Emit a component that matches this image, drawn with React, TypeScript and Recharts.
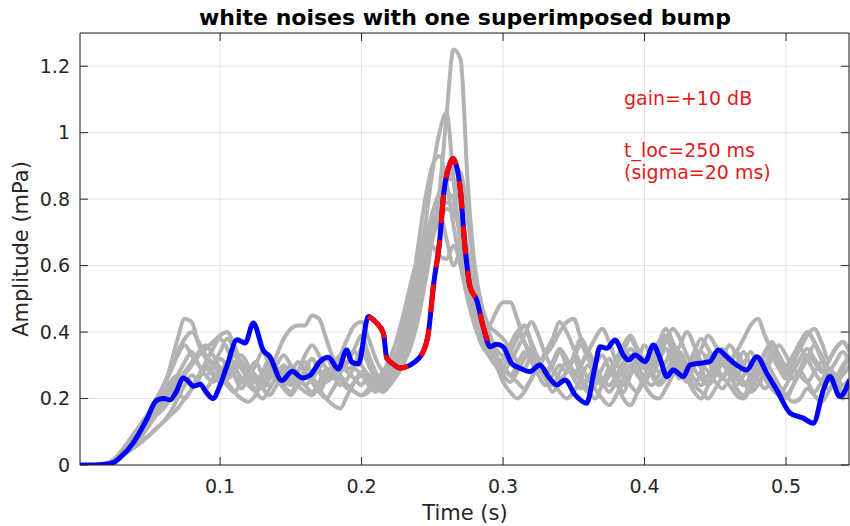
import React from 'react';
import { LineChart, Line, XAxis, YAxis, CartesianGrid, ReferenceLine } from 'recharts';

// ---------- data ----------
const xTicks = [0.1, 0.2, 0.3, 0.4, 0.5];
const yTicks = [0, 0.2, 0.4, 0.6, 0.8, 1, 1.2];
const xDomain: [number, number] = [0.001, 0.5445];
const yDomain: [number, number] = [0, 1.3];

// shared sampling grid for the grey noise realisations (5 ms)
const timeGrid = Array.from({ length: 110 }, (_, i) => Math.round(i * 5) / 1000);

const gray1 = [
  0, 0, 0, 0, 0.004, 0.014, 0.04, 0.065, 0.09, 0.12,
  0.15, 0.19, 0.24, 0.28, 0.33, 0.36, 0.33, 0.30, 0.27, 0.29,
  0.32, 0.30, 0.27, 0.25, 0.28, 0.31, 0.27, 0.24, 0.26, 0.29,
  0.27, 0.25, 0.29, 0.32, 0.28, 0.25, 0.27, 0.30, 0.28, 0.26,
  0.24, 0.27, 0.25, 0.23, 0.25, 0.28, 0.31, 0.36, 0.44, 0.55,
  0.68, 0.82, 1.05, 1.25, 1.22, 0.85, 0.6, 0.48, 0.42, 0.40,
  0.38, 0.35, 0.31, 0.29, 0.33, 0.30, 0.26, 0.24, 0.28, 0.31,
  0.28, 0.25, 0.22, 0.24, 0.29, 0.32, 0.27, 0.24, 0.28, 0.33,
  0.30, 0.27, 0.31, 0.35, 0.30, 0.26, 0.29, 0.33, 0.29, 0.25,
  0.27, 0.31, 0.28, 0.24, 0.27, 0.30, 0.26, 0.23, 0.25, 0.22,
  0.20, 0.24, 0.28, 0.25, 0.22, 0.25, 0.29, 0.27, 0.24, 0.26,
];
const gray2 = [
  0, 0, 0, 0, 0.003, 0.012, 0.035, 0.06, 0.08, 0.1,
  0.13, 0.17, 0.22, 0.3, 0.38, 0.44, 0.43, 0.36, 0.32, 0.3,
  0.28, 0.31, 0.27, 0.23, 0.26, 0.3, 0.34, 0.3, 0.26, 0.24,
  0.27, 0.31, 0.28, 0.25, 0.22, 0.26, 0.3, 0.33, 0.29, 0.3,
  0.35, 0.3, 0.26, 0.24, 0.26, 0.3, 0.36, 0.46, 0.58, 0.72,
  0.88, 1.0, 1.06, 0.86, 0.66, 0.52, 0.45, 0.39, 0.34, 0.31,
  0.3, 0.34, 0.38, 0.42, 0.36, 0.3, 0.26, 0.22, 0.25, 0.28,
  0.32, 0.27, 0.23, 0.2, 0.24, 0.29, 0.26, 0.22, 0.27, 0.31,
  0.36, 0.32, 0.28, 0.31, 0.35, 0.31, 0.27, 0.24, 0.28, 0.33,
  0.29, 0.26, 0.3, 0.34, 0.3, 0.26, 0.24, 0.28, 0.32, 0.29,
  0.26, 0.3, 0.35, 0.32, 0.28, 0.25, 0.23, 0.26, 0.3, 0.33,
];
const gray3 = [
  0, 0, 0, 0, 0.005, 0.018, 0.04, 0.065, 0.09, 0.12,
  0.16, 0.2, 0.24, 0.29, 0.34, 0.38, 0.4, 0.37, 0.33, 0.31,
  0.34, 0.38, 0.35, 0.3, 0.27, 0.25, 0.28, 0.32, 0.29, 0.26,
  0.24, 0.28, 0.33, 0.36, 0.33, 0.29, 0.26, 0.28, 0.31, 0.35,
  0.39, 0.33, 0.28, 0.25, 0.27, 0.31, 0.38, 0.5, 0.66, 0.8,
  0.9, 0.93, 0.85, 0.72, 0.6, 0.5, 0.42, 0.36, 0.33, 0.3,
  0.27, 0.25, 0.28, 0.32, 0.35, 0.31, 0.27, 0.3, 0.34, 0.3,
  0.26, 0.23, 0.26, 0.3, 0.33, 0.29, 0.25, 0.2, 0.18, 0.22,
  0.27, 0.31, 0.35, 0.39, 0.33, 0.28, 0.25, 0.3, 0.34, 0.31,
  0.28, 0.32, 0.36, 0.33, 0.29, 0.27, 0.3, 0.34, 0.37, 0.33,
  0.29, 0.26, 0.29, 0.33, 0.31, 0.28, 0.31, 0.35, 0.37, 0.34,
];
const gray4 = [
  0, 0, 0, 0, 0.004, 0.013, 0.03, 0.05, 0.07, 0.09,
  0.12, 0.15, 0.17, 0.2, 0.23, 0.27, 0.3, 0.33, 0.35, 0.37,
  0.39, 0.4, 0.36, 0.31, 0.28, 0.26, 0.24, 0.26, 0.3, 0.33,
  0.3, 0.27, 0.24, 0.22, 0.25, 0.29, 0.27, 0.24, 0.26, 0.29,
  0.27, 0.25, 0.23, 0.25, 0.28, 0.31, 0.35, 0.42, 0.51, 0.6,
  0.68, 0.74, 0.79, 0.78, 0.68, 0.55, 0.45, 0.38, 0.33, 0.3,
  0.32, 0.36, 0.4, 0.42, 0.37, 0.32, 0.28, 0.31, 0.35, 0.32,
  0.28, 0.3, 0.34, 0.3, 0.25, 0.22, 0.25, 0.29, 0.33, 0.3,
  0.26, 0.24, 0.27, 0.31, 0.34, 0.3, 0.26, 0.22, 0.2, 0.24,
  0.29, 0.33, 0.3, 0.26, 0.24, 0.27, 0.31, 0.28, 0.25, 0.23,
  0.21, 0.24, 0.28, 0.32, 0.36, 0.33, 0.29, 0.26, 0.29, 0.33,
];
const gray5 = [
  0, 0, 0, 0, 0.003, 0.01, 0.025, 0.04, 0.055, 0.075,
  0.09, 0.11, 0.13, 0.16, 0.2, 0.24, 0.27, 0.25, 0.23, 0.26,
  0.28, 0.25, 0.22, 0.2, 0.19, 0.21, 0.25, 0.28, 0.26, 0.23,
  0.21, 0.24, 0.27, 0.25, 0.22, 0.2, 0.23, 0.26, 0.24, 0.22,
  0.21, 0.22, 0.25, 0.27, 0.3, 0.34, 0.42, 0.52, 0.62, 0.7,
  0.73, 0.76, 0.68, 0.6, 0.64, 0.62, 0.52, 0.44, 0.38, 0.33,
  0.29, 0.27, 0.3, 0.34, 0.31, 0.27, 0.24, 0.27, 0.3, 0.28,
  0.33, 0.38, 0.34, 0.29, 0.25, 0.27, 0.3, 0.34, 0.38, 0.34,
  0.3, 0.27, 0.24, 0.26, 0.3, 0.34, 0.3, 0.26, 0.24, 0.27,
  0.31, 0.35, 0.32, 0.28, 0.25, 0.22, 0.24, 0.28, 0.32, 0.36,
  0.33, 0.29, 0.27, 0.25, 0.28, 0.31, 0.28, 0.25, 0.22, 0.24,
];
const gray6 = [
  0, 0, 0, 0, 0.005, 0.016, 0.04, 0.07, 0.1, 0.13,
  0.16, 0.19, 0.22, 0.25, 0.27, 0.26, 0.24, 0.26, 0.29, 0.27,
  0.25, 0.27, 0.3, 0.33, 0.3, 0.27, 0.25, 0.28, 0.33, 0.38,
  0.41, 0.42, 0.42, 0.45, 0.44, 0.38, 0.32, 0.28, 0.31, 0.34,
  0.3, 0.27, 0.25, 0.26, 0.28, 0.3, 0.34, 0.41, 0.52, 0.63,
  0.72, 0.78, 0.82, 0.8, 0.7, 0.57, 0.47, 0.4, 0.35, 0.31,
  0.28, 0.31, 0.35, 0.39, 0.43, 0.39, 0.33, 0.29, 0.26, 0.28,
  0.32, 0.36, 0.32, 0.28, 0.25, 0.28, 0.32, 0.36, 0.39, 0.35,
  0.31, 0.28, 0.25, 0.28, 0.32, 0.36, 0.4, 0.36, 0.31, 0.28,
  0.25, 0.23, 0.26, 0.3, 0.34, 0.3, 0.27, 0.3, 0.34, 0.31,
  0.28, 0.32, 0.36, 0.4, 0.37, 0.32, 0.28, 0.25, 0.27, 0.3,
];
const gray7 = [
  0, 0, 0, 0, 0.004, 0.014, 0.035, 0.06, 0.085, 0.11,
  0.14, 0.17, 0.2, 0.22, 0.25, 0.28, 0.31, 0.34, 0.36, 0.33,
  0.29, 0.26, 0.28, 0.31, 0.28, 0.25, 0.23, 0.26, 0.29, 0.27,
  0.25, 0.28, 0.31, 0.27, 0.23, 0.2, 0.18, 0.17, 0.21, 0.25,
  0.28, 0.26, 0.24, 0.22, 0.24, 0.27, 0.31, 0.4, 0.53, 0.66,
  0.76, 0.82, 0.86, 0.86, 0.78, 0.64, 0.52, 0.43, 0.37, 0.33,
  0.3, 0.27, 0.25, 0.23, 0.26, 0.3, 0.28, 0.25, 0.22, 0.2,
  0.22, 0.26, 0.3, 0.27, 0.24, 0.27, 0.31, 0.35, 0.32, 0.28,
  0.25, 0.29, 0.33, 0.37, 0.41, 0.38, 0.33, 0.29, 0.26, 0.24,
  0.27, 0.3, 0.27, 0.23, 0.21, 0.25, 0.29, 0.33, 0.36, 0.33,
  0.3, 0.33, 0.37, 0.4, 0.37, 0.32, 0.28, 0.31, 0.34, 0.31,
];
const gray8 = [
  0, 0, 0, 0, 0.003, 0.012, 0.03, 0.055, 0.08, 0.1,
  0.13, 0.16, 0.19, 0.23, 0.27, 0.31, 0.34, 0.3, 0.27, 0.25,
  0.27, 0.3, 0.33, 0.29, 0.26, 0.23, 0.26, 0.3, 0.27, 0.24,
  0.22, 0.25, 0.28, 0.32, 0.29, 0.26, 0.29, 0.33, 0.38, 0.42,
  0.43, 0.38, 0.32, 0.28, 0.26, 0.28, 0.31, 0.38, 0.49, 0.6,
  0.7, 0.78, 0.85, 0.89, 0.88, 0.74, 0.58, 0.47, 0.4, 0.35,
  0.33, 0.36, 0.4, 0.37, 0.33, 0.3, 0.33, 0.36, 0.4, 0.43,
  0.44, 0.38, 0.33, 0.29, 0.26, 0.24, 0.27, 0.31, 0.35, 0.32,
  0.29, 0.33, 0.37, 0.41, 0.37, 0.33, 0.3, 0.34, 0.38, 0.35,
  0.31, 0.27, 0.3, 0.34, 0.38, 0.42, 0.44, 0.39, 0.34, 0.3,
  0.27, 0.31, 0.35, 0.39, 0.41, 0.37, 0.32, 0.35, 0.37, 0.34,
];
const gray9 = [
  0, 0, 0, 0, 0.004, 0.012, 0.03, 0.05, 0.075, 0.1,
  0.13, 0.17, 0.21, 0.24, 0.22, 0.2, 0.23, 0.27, 0.3, 0.28,
  0.26, 0.24, 0.22, 0.25, 0.28, 0.26, 0.23, 0.21, 0.24, 0.27,
  0.3, 0.27, 0.24, 0.26, 0.29, 0.32, 0.29, 0.26, 0.23, 0.25,
  0.27, 0.24, 0.22, 0.24, 0.27, 0.31, 0.38, 0.48, 0.58, 0.65,
  0.7, 0.74, 0.77, 0.76, 0.7, 0.6, 0.5, 0.43, 0.42, 0.46,
  0.49, 0.49, 0.44, 0.37, 0.32, 0.29, 0.27, 0.3, 0.34, 0.31,
  0.27, 0.3, 0.34, 0.38, 0.41, 0.37, 0.31, 0.27, 0.24, 0.22,
  0.26, 0.3, 0.34, 0.38, 0.36, 0.32, 0.28, 0.31, 0.35, 0.39,
  0.36, 0.32, 0.29, 0.27, 0.3, 0.34, 0.3, 0.26, 0.23, 0.21,
  0.24, 0.28, 0.32, 0.35, 0.32, 0.29, 0.26, 0.23, 0.2, 0.22,
];
const gray10 = [
  0, 0, 0, 0, 0.002, 0.01, 0.025, 0.04, 0.055, 0.07,
  0.09, 0.11, 0.13, 0.15, 0.17, 0.2, 0.23, 0.27, 0.31, 0.35,
  0.38, 0.35, 0.3, 0.26, 0.24, 0.22, 0.2, 0.23, 0.27, 0.3,
  0.27, 0.24, 0.22, 0.21, 0.24, 0.27, 0.3, 0.27, 0.24, 0.22,
  0.21, 0.23, 0.25, 0.28, 0.32, 0.38, 0.46, 0.55, 0.63, 0.68,
  0.66, 0.63, 0.62, 0.66, 0.6, 0.5, 0.42, 0.37, 0.33, 0.3,
  0.25, 0.22, 0.2, 0.22, 0.26, 0.3, 0.34, 0.38, 0.43, 0.4,
  0.35, 0.3, 0.26, 0.23, 0.2, 0.18, 0.21, 0.26, 0.3, 0.27,
  0.24, 0.21, 0.2, 0.23, 0.27, 0.3, 0.27, 0.24, 0.22, 0.2,
  0.23, 0.26, 0.24, 0.21, 0.2, 0.23, 0.27, 0.31, 0.28, 0.24,
  0.21, 0.19, 0.2, 0.23, 0.21, 0.19, 0.22, 0.25, 0.22, 0.2,
];
const grayLines = [gray1, gray2, gray3, gray4, gray5, gray6, gray7, gray8, gray9, gray10];

// highlighted realisation (blue)
const blueTime = [
  0, 0.01, 0.02, 0.025, 0.03, 0.0385, 0.048, 0.055, 0.06, 0.0647,
  0.069, 0.074, 0.078, 0.081, 0.086, 0.09, 0.095, 0.1, 0.105, 0.112,
  0.1177, 0.1235, 0.1306, 0.135, 0.1436, 0.151, 0.158, 0.1636, 0.1707, 0.1765,
  0.1836, 0.1895, 0.193, 0.1978, 0.2048, 0.21, 0.2154, 0.2178, 0.222, 0.2272,
  0.2366, 0.2437, 0.2472, 0.2507, 0.2555, 0.2578, 0.2625, 0.2645, 0.2696, 0.2731,
  0.2767, 0.2814, 0.286, 0.2908, 0.2955, 0.3, 0.306, 0.312, 0.319, 0.326,
  0.332, 0.338, 0.3438, 0.351, 0.359, 0.365, 0.3686, 0.3733, 0.3792, 0.385,
  0.3886, 0.3933, 0.4004, 0.4062, 0.411, 0.4157, 0.4203, 0.4274, 0.4322, 0.439,
  0.446, 0.4522, 0.458, 0.465, 0.4722, 0.4793, 0.4864, 0.4934, 0.503, 0.5122,
  0.5193, 0.5264, 0.531, 0.538, 0.545,
];
const blueValue = [
  0, 0, 0.003, 0.008, 0.025, 0.066, 0.136, 0.194, 0.2, 0.196,
  0.22, 0.262, 0.25, 0.237, 0.243, 0.22, 0.2, 0.24, 0.3, 0.377,
  0.367, 0.427, 0.344, 0.327, 0.254, 0.282, 0.262, 0.27, 0.312, 0.324,
  0.289, 0.346, 0.31, 0.304, 0.447, 0.43, 0.397, 0.322, 0.305, 0.292,
  0.307, 0.342, 0.396, 0.536, 0.687, 0.807, 0.907, 0.922, 0.837, 0.656,
  0.536, 0.496, 0.416, 0.356, 0.363, 0.356, 0.306, 0.291, 0.281, 0.301,
  0.266, 0.241, 0.256, 0.211, 0.186, 0.296, 0.356, 0.351, 0.376, 0.331,
  0.316, 0.331, 0.311, 0.361, 0.32, 0.266, 0.286, 0.266, 0.301, 0.306,
  0.311, 0.346, 0.326, 0.301, 0.286, 0.326, 0.276, 0.226, 0.156, 0.141,
  0.126, 0.226, 0.266, 0.206, 0.256,
];
// window holding the superimposed bump (red dashed overlay)
const bumpStart = 0.2048;
const bumpEnd = 0.2908;

const titleText = 'white noises with one superimposed bump';
const xLabel = 'Time (s)';
const yLabel = 'Amplitude (mPa)';
const notes = ['gain=+10 dB', 't_loc=250 ms', '(sigma=20 ms)'];

// ---------- derived tables ----------
const grayData = grayLines.map((vals) => vals.map((v, i) => ({ t: timeGrid[i], v })));
const blueData = blueTime.map((t, i) => ({ t, v: blueValue[i] }));
const redData = blueData.filter((d) => d.t >= bumpStart && d.t <= bumpEnd);

const FONT = '"DejaVu Sans", Verdana, sans-serif';
const AX = '#262626';
const W = 850;
const H = 526;

const tickLenY = 0.024; // inward tick length in y units
const tickLenX = 0.0057; // inward tick length in x units

export default function App() {
  return (
    <div style={{ position: 'absolute', left: 0, top: 0, width: W, height: H, background: '#fff' }}>
      <LineChart width={W} height={H} margin={{ top: 33, right: 1, bottom: 0, left: 0 }}>
        <CartesianGrid stroke="#e3e3e3" strokeWidth={1} />
        <XAxis
          type="number"
          dataKey="t"
          domain={xDomain}
          allowDataOverflow
          ticks={xTicks}
          tickFormatter={(v: number) => String(v)}
          height={61}
          tickLine={false}
          tickSize={10}
          tickMargin={5}
          axisLine={{ stroke: AX, strokeWidth: 1 }}
          tick={{ fontSize: 19, fill: AX, fontFamily: FONT }}
        />
        <YAxis
          type="number"
          domain={yDomain}
          allowDataOverflow
          ticks={yTicks}
          tickFormatter={(v: number) => String(v)}
          width={80}
          tickLine={false}
          tickSize={6}
          tickMargin={4}
          axisLine={{ stroke: AX, strokeWidth: 1 }}
          tick={{ fontSize: 19, fill: AX, fontFamily: FONT }}
        />
        {grayData.map((d, i) => (
          <Line
            key={'g' + i}
            data={d}
            dataKey="v"
            type="monotone"
            stroke="#b3b3b3"
            strokeWidth={4}
            dot={false}
            activeDot={false}
            isAnimationActive={false}
            strokeLinejoin="round"
          />
        ))}
        <Line
          data={blueData}
          dataKey="v"
          type="monotone"
          stroke="#0000ff"
          strokeWidth={5}
          dot={false}
          activeDot={false}
          isAnimationActive={false}
          strokeLinejoin="round"
        />
        <Line
          data={redData}
          dataKey="v"
          type="monotone"
          stroke="#ff0000"
          strokeWidth={5}
          strokeDasharray="28 17"
          dot={false}
          activeDot={false}
          isAnimationActive={false}
        />
        <ReferenceLine y={yDomain[1]} stroke={AX} strokeWidth={1} />
        <ReferenceLine x={xDomain[1]} stroke={AX} strokeWidth={1} />
        {xTicks.map((t) => (
          <ReferenceLine
            key={'xb' + t}
            segment={[{ x: t, y: 0 }, { x: t, y: tickLenY }]}
            stroke={AX}
            strokeWidth={1}
          />
        ))}
        {xTicks.map((t) => (
          <ReferenceLine
            key={'xt' + t}
            segment={[{ x: t, y: yDomain[1] }, { x: t, y: yDomain[1] - tickLenY }]}
            stroke={AX}
            strokeWidth={1}
          />
        ))}
        {yTicks.map((v) => (
          <ReferenceLine
            key={'yl' + v}
            segment={[{ x: xDomain[0], y: v }, { x: xDomain[0] + tickLenX, y: v }]}
            stroke={AX}
            strokeWidth={1}
          />
        ))}
        {yTicks.map((v) => (
          <ReferenceLine
            key={'yr' + v}
            segment={[{ x: xDomain[1], y: v }, { x: xDomain[1] - tickLenX, y: v }]}
            stroke={AX}
            strokeWidth={1}
          />
        ))}
      </LineChart>
      <svg
        width={W}
        height={H}
        style={{ position: 'absolute', left: 0, top: 0, pointerEvents: 'none' }}
      >
        <text x={465} y={25} textAnchor="middle" fontFamily={FONT} fontWeight="bold" fontSize={22} fill="#000">
          {titleText}
        </text>
        <text x={465} y={520} textAnchor="middle" fontFamily={FONT} fontSize={21} fill={AX}>
          {xLabel}
        </text>
        <text
          x={0}
          y={0}
          transform="translate(28,249) rotate(-90)"
          textAnchor="middle"
          fontFamily={FONT}
          fontSize={21}
          fill={AX}
        >
          {yLabel}
        </text>
        <text x={624} y={105} fontFamily={FONT} fontSize={19} fill="#e41a1c">
          {notes[0]}
        </text>
        <text x={624} y={157} fontFamily={FONT} fontSize={19} fill="#e41a1c">
          {notes[1]}
        </text>
        <text x={624} y={179} fontFamily={FONT} fontSize={19} fill="#e41a1c">
          {notes[2]}
        </text>
      </svg>
    </div>
  );
}
